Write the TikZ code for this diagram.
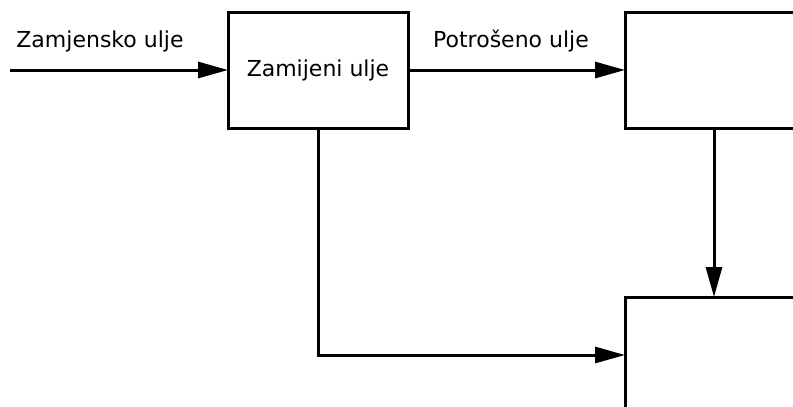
\documentclass[tikz,border=0pt]{standalone}
\usepackage{fontspec}
\setmainfont{DejaVu Sans}
\usetikzlibrary{arrows.meta,positioning}
\begin{document}
\begin{tikzpicture}[x=1pt,y=-1pt,line width=3pt,>={Triangle[length=30pt,width=16pt]},
        main node/.style={draw,rectangle,inner sep=0pt,outer sep=0pt,minimum width=180pt,minimum height=116pt,font=\fontsize{22}{26}\selectfont},
        flow label/.style={font=\fontsize{22}{26}\selectfont}]
    \useasboundingbox (0,0) rectangle (793,407);
    \clip (0,0) rectangle (793,407);
    \node[main node] (zamjena) at (318,70) {Zamijeni ulje};
    \node[main node, minimum width=178pt] (otpad) at (714,70) {};
    \node[main node, minimum width=178pt] (obrada) at (714,355) {};
    \coordinate (ulaz) at (10,70);
    \node[flow label] (novo) at (100,41) {Zamjensko ulje};
    \node[flow label] (staro) at (511,41) {Potrošeno ulje};
    \draw[->] (ulaz) -- (zamjena.west);
    \draw[->] (zamjena.east) -- (otpad.west);
    \draw[->] (otpad.south) -- (obrada.north);
    \draw[->] (zamjena.south) |- (obrada.west);
\end{tikzpicture}
\end{document}
